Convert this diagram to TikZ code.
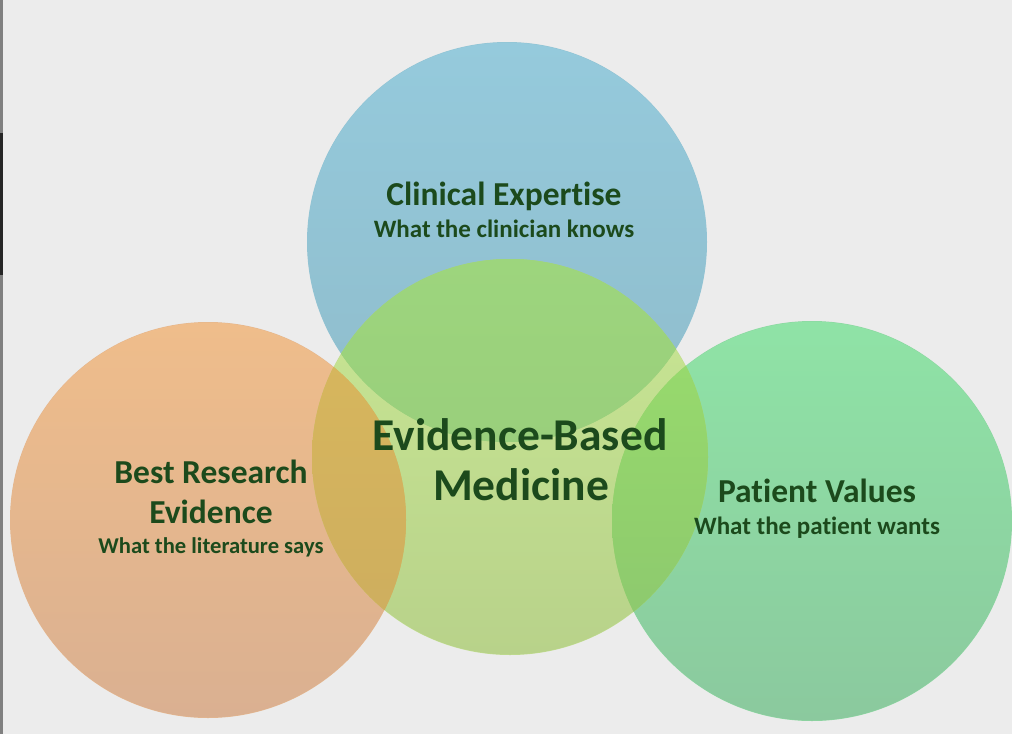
\documentclass[tikz,border=0pt]{standalone}
\usepackage{fontspec}
\setmainfont{Carlito}[Ligatures=NoCommon]
\definecolor{bg}{HTML}{ECECEC}
\definecolor{txt}{HTML}{1C4A1C}
\definecolor{cblue}{RGB}{146,196,212}
\definecolor{corange}{RGB}{229,183,142}
\definecolor{cright}{RGB}{141,215,162}
\definecolor{ccenter}{RGB}{193,221,143}
\definecolor{cbc}{RGB}{153,207,124}
\definecolor{coc}{RGB}{212,179,94}
\definecolor{crc}{RGB}{148,212,109}
\tikzset{
  ttl/.style={font=\bfseries\fontsize{33.5}{33.5}\selectfont, text=txt, anchor=base, inner sep=0pt},
  sub/.style={font=\bfseries\fontsize{25}{25}\selectfont, text=txt, anchor=base, inner sep=0pt},
  subs/.style={font=\bfseries\fontsize{22.6}{22.6}\selectfont, text=txt, anchor=base, inner sep=0pt},
  big/.style={font=\bfseries\fontsize{45.5}{45.5}\selectfont, text=txt, anchor=base, inner sep=0pt},
}
\begin{document}
\begin{tikzpicture}[x=1pt,y=-1pt]
\useasboundingbox (0,0) rectangle (1012,734);
\fill[bg] (0,0) rectangle (1012,734);
% left screenshot edge
\fill[black!50] (0,0) rectangle (2.5,734);
\fill[black!85] (0,133) rectangle (2.5,275);
% main circles
\fill[cblue] (507,242) circle (200pt);
\shade[top color={rgb,255:red,149;green,202;blue,220}, bottom color={rgb,255:red,143;green,188;blue,203}] (507,242) circle (199.5pt);
\fill[corange] (208,520) circle (198pt);
\shade[top color={rgb,255:red,239;green,189;blue,139}, bottom color={rgb,255:red,218;green,176;blue,145}] (208,520) circle (197.5pt);
\fill[cright] (812,521) circle (200pt);
\shade[top color={rgb,255:red,143;green,227;blue,166}, bottom color={rgb,255:red,139;green,201;blue,158}] (812,521) circle (199.5pt);
\fill[ccenter] (510,457) circle (198pt);
\shade[top color={rgb,255:red,201;green,231;blue,148}, bottom color={rgb,255:red,184;green,210;blue,138}] (510,457) circle (197.5pt);
% overlaps
\begin{scope}
\clip (507,242) circle (200pt);
\fill[cbc] (510,457) circle (198pt);
\shade[top color={rgb,255:red,157;green,213;blue,125}, bottom color={rgb,255:red,149;green,200;blue,122}] (510,457) circle (198pt);
\end{scope}
\begin{scope}
\clip (208,520) circle (198pt);
\fill[coc] (510,457) circle (198pt);
\shade[top color={rgb,255:red,218;green,185;blue,92}, bottom color={rgb,255:red,205;green,173;blue,95}] (510,457) circle (198pt);
\end{scope}
\begin{scope}
\clip (812,521) circle (200pt);
\fill[crc] (510,457) circle (198pt);
\shade[top color={rgb,255:red,155;green,224;blue,108}, bottom color={rgb,255:red,140;green,199;blue,110}] (510,457) circle (198pt);
\end{scope}
% texts
\node[ttl] (ce) at (504,205) {Clinical Expertise};
\node[sub] (ces) at (504,237) {What the clinician knows};
\node[big] (ebm1) at (520,450) {Evidence-Based};
\node[big] (ebm2) at (521,500) {Medicine};
\node[ttl] (br1) at (211,483) {Best Research};
\node[ttl] (br2) at (211,523) {Evidence};
\node[subs] (brs) at (211,553) {What the literature says};
\node[ttl] (pv) at (817,502) {Patient Values};
\node[sub] (pvs) at (817,534) {What the patient wants};
\end{tikzpicture}
\end{document}
